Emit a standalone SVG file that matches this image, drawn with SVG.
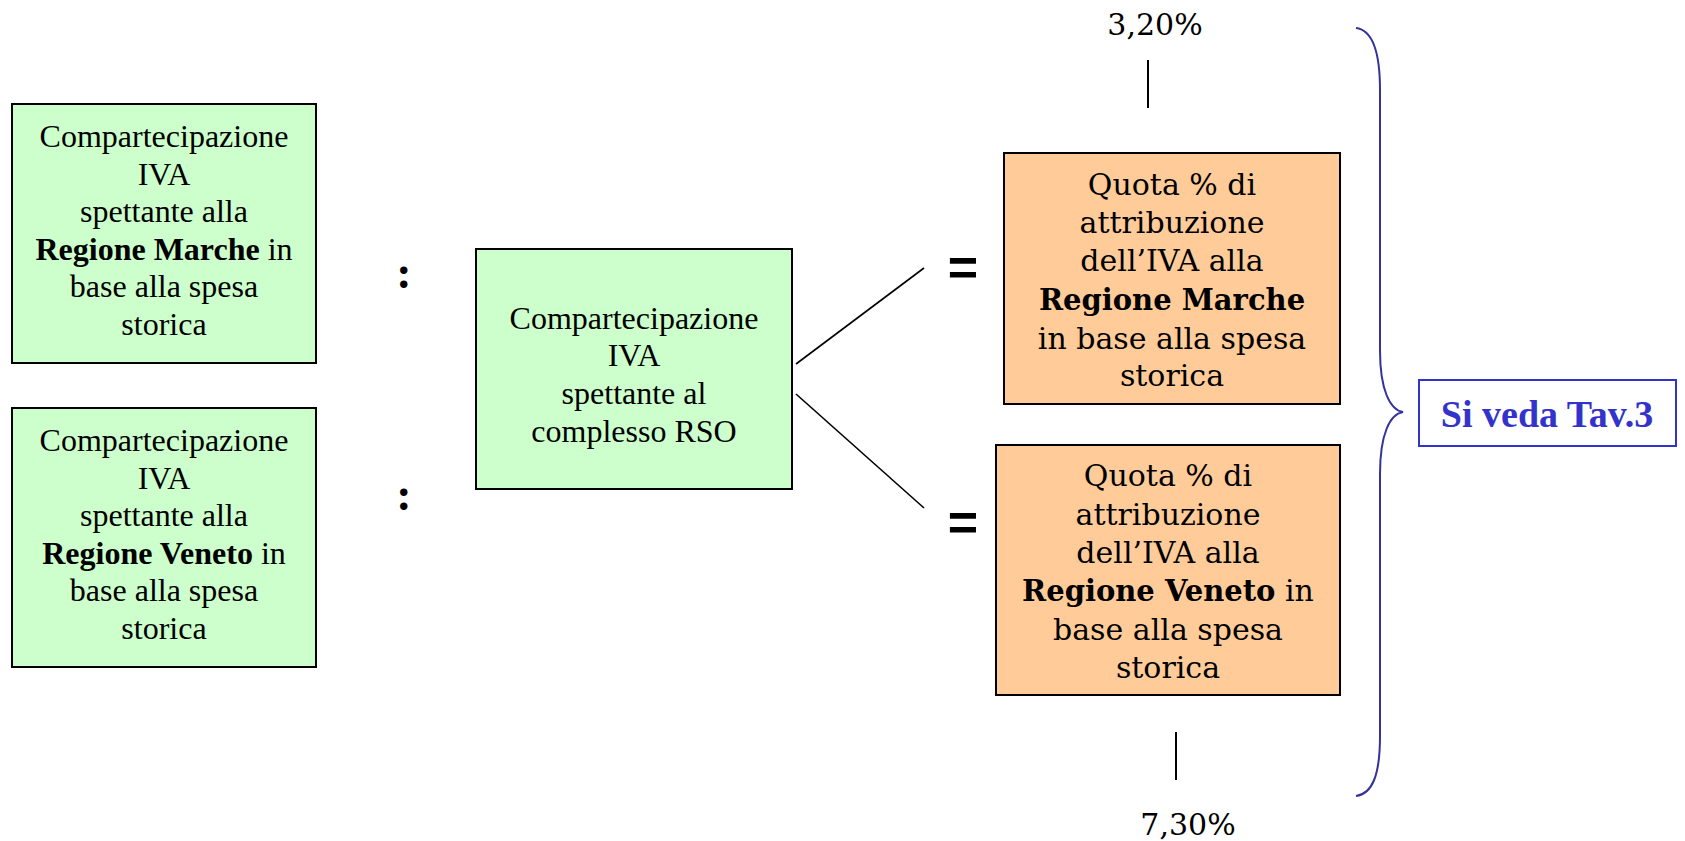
<svg xmlns="http://www.w3.org/2000/svg" width="1685" height="841" viewBox="0 0 1685 841">
<style>
.g{fill:#CCFFCC;stroke:#000;stroke-width:2}
.o{fill:#FFCC99;stroke:#000;stroke-width:2}
.t{font-family:"Liberation Serif","Times New Roman",serif;font-size:32px;fill:#000;text-anchor:middle}
.b{font-weight:bold}
.q{font-family:"DejaVu Serif",serif;font-size:30px;fill:#000;text-anchor:middle}
.qb{font-weight:bold;font-size:29px}
.op{font-family:"Liberation Sans",Arial,sans-serif;font-weight:bold;fill:#000;text-anchor:middle}
.cl{font-family:"Liberation Serif","Times New Roman",serif;font-weight:bold;fill:#000;text-anchor:middle}
.ln{stroke:#000;stroke-width:1.6;fill:none}
.vl{stroke:#000;stroke-width:2;fill:none}
</style>
<rect width="1685" height="841" fill="#fff"/>
<g id="regione-marche">
<rect class="g" x="12" y="104" width="304" height="259"/>
<text class="t" x="164" y="147">Compartecipazione</text>
<text class="t" x="164" y="185">IVA</text>
<text class="t" x="164" y="222">spettante alla</text>
<text class="t" x="164" y="260"><tspan class="b">Regione Marche</tspan> in</text>
<text class="t" x="164" y="297">base alla spesa</text>
<text class="t" x="164" y="335">storica</text>
</g>
<g id="regione-veneto">
<rect class="g" x="12" y="408" width="304" height="259"/>
<text class="t" x="164" y="451">Compartecipazione</text>
<text class="t" x="164" y="489">IVA</text>
<text class="t" x="164" y="526">spettante alla</text>
<text class="t" x="164" y="564"><tspan class="b">Regione Veneto</tspan> in</text>
<text class="t" x="164" y="601">base alla spesa</text>
<text class="t" x="164" y="639">storica</text>
</g>
<g id="colons">
<text class="cl" x="404" y="288" font-size="46">:</text>
<text class="cl" x="404" y="510" font-size="46">:</text>
</g>
<g id="complesso-rso">
<rect class="g" x="476" y="249" width="316" height="240"/>
<text class="t" x="634" y="329">Compartecipazione</text>
<text class="t" x="634" y="366">IVA</text>
<text class="t" x="634" y="404">spettante al</text>
<text class="t" x="634" y="442">complesso RSO</text>
</g>
<g id="connectors">
<line class="ln" x1="796" y1="364" x2="924" y2="268"/>
<line class="ln" x1="796" y1="394" x2="924" y2="508"/>
<line class="vl" x1="1148" y1="60" x2="1148" y2="108"/>
<line class="vl" x1="1176" y1="732" x2="1176" y2="780"/>
</g>
<g id="equals">
<text class="op" x="963" y="285" font-size="52">=</text>
<text class="op" x="963" y="540" font-size="52">=</text>
</g>
<g id="quota-marche">
<rect class="o" x="1004" y="153" width="336" height="251"/>
<text class="q" x="1172" y="195">Quota % di</text>
<text class="q" x="1172" y="233">attribuzione</text>
<text class="q" x="1172" y="271">dell’IVA alla</text>
<text class="q" x="1172" y="310"><tspan class="qb">Regione Marche</tspan></text>
<text class="q" x="1172" y="349">in base alla spesa</text>
<text class="q" x="1172" y="386">storica</text>
</g>
<g id="quota-veneto">
<rect class="o" x="996" y="445" width="344" height="250"/>
<text class="q" x="1168" y="486">Quota % di</text>
<text class="q" x="1168" y="525">attribuzione</text>
<text class="q" x="1168" y="563">dell’IVA alla</text>
<text class="q" x="1168" y="601"><tspan class="qb">Regione Veneto</tspan> in</text>
<text class="q" x="1168" y="640">base alla spesa</text>
<text class="q" x="1168" y="678">storica</text>
</g>
<g id="percent-labels">
<text class="q" x="1155" y="35">3,20%</text>
<text class="q" x="1188" y="835">7,30%</text>
</g>
<g id="brace">
<path d="M1356,28 C1372,30 1380,50 1380,90 L1380,350 C1380,390 1390,410 1403,412 C1390,414 1380,434 1380,474 L1380,736 C1380,776 1372,794 1356,796" fill="none" stroke="#333399" stroke-width="2"/>
</g>
<g id="si-veda">
<rect x="1419" y="380" width="257" height="66" fill="#fff" stroke="#3333CC" stroke-width="2"/>
<text x="1547" y="427" font-family="Liberation Serif,Times New Roman,serif" font-size="38" font-weight="bold" fill="#3333CC" text-anchor="middle">Si veda Tav.3</text>
</g>
</svg>
